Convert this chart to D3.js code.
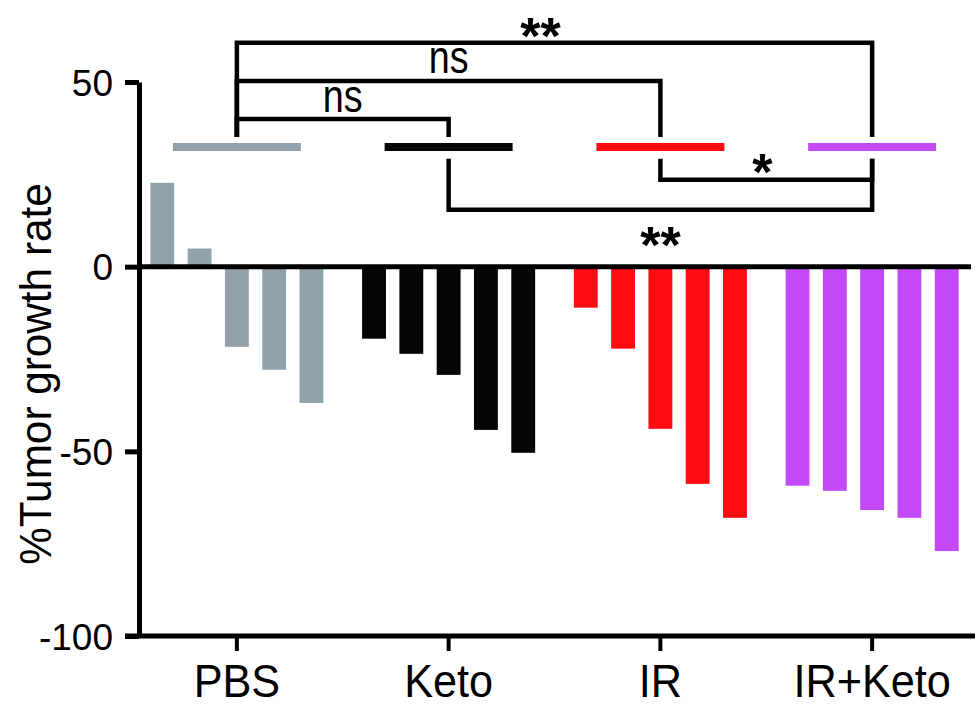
<!DOCTYPE html>
<html><head><meta charset="utf-8">
<script src="https://cdn.jsdelivr.net/npm/d3@7/dist/d3.min.js"></script>
<style>body{margin:0;background:#fff} svg{display:block}</style>
</head><body><svg id="c" width="978" height="707"></svg>
<script>
// ---- data ----
const categories = ["PBS", "Keto", "IR", "IR+Keto"];
const pbsValues    = [22.7, 4.9, -21.7, -27.9, -36.9];
const ketoValues   = [-19.5, -23.6, -29.3, -44.2, -50.4];
const irValues     = [-11.1, -22.2, -43.9, -58.8, -68.0];
const irKetoValues = [-59.3, -60.7, -65.9, -68.0, -77.0];
const yTicks = [50, 0, -50, -100];
const yTickLabels = ["50", "0", "-50", "-100"];
const yLabel = "%Tumor growth rate";
const comparisonsAbove = [
  {a: "PBS", b: "IR+Keto", label: "**"},
  {a: "PBS", b: "IR", label: "ns"},
  {a: "PBS", b: "Keto", label: "ns"}
];
const comparisonsBelow = [
  {a: "IR", b: "IR+Keto", label: "*"},
  {a: "Keto", b: "IR+Keto", label: "**"}
];

// ---- styles / layout ----
const colors = {"PBS": "#91a2ad", "Keto": "#050505", "IR": "#ff0b12", "IR+Keto": "#c44af9"};
const FONT = "'Liberation Sans', Arial, Helvetica, sans-serif";
const aboveLevels = [60.6, 50.3, 40.0];  // data units
const aboveDrop = 35.1;
const belowStart = 29.2;
const belowLevels = [23.5, 15.4];
const groupMarkLevel = 32.4;

const groups = categories.map((c, i) => ({cat: c, values: [pbsValues, ketoValues, irValues, irKetoValues][i]}));

const svg = d3.select("#c");
const y = d3.scaleLinear().domain([-100, 50]).range([636, 82]);
const x = d3.scaleBand().domain(categories).range([131, 978]).padding(0);
const cx = c => x(c) + x.bandwidth() / 2;
const xi = d3.scaleBand().domain(d3.range(5)).range([-93.25, 93.25]).paddingInner(0.36).paddingOuter(0.18);

// bars
const gBars = svg.append("g");
groups.forEach(g => {
  gBars.selectAll(null).data(g.values).enter().append("rect")
    .attr("x", (d, i) => cx(g.cat) + xi(i))
    .attr("width", xi.bandwidth())
    .attr("y", d => y(Math.max(0, d)))
    .attr("height", d => Math.abs(y(d) - y(0)))
    .attr("fill", colors[g.cat]);
});

// zero line
svg.append("line").attr("x1", 139).attr("x2", 971).attr("y1", y(0)).attr("y2", y(0))
  .attr("stroke", "#000").attr("stroke-width", 5);

// y axis
const yAxis = svg.append("g").attr("transform", "translate(139,0)")
  .call(d3.axisLeft(y).tickValues(yTicks).tickFormat((d, i) => yTickLabels[i])
    .tickSize(14).tickSizeOuter(0).tickPadding(12));
yAxis.select(".domain").attr("stroke-width", 5).attr("stroke", "#000");
yAxis.selectAll(".tick line").attr("stroke-width", 5).attr("stroke", "#000");
yAxis.selectAll(".tick text").attr("font-family", FONT).attr("font-size", 37).attr("fill", "#000").attr("dy", "0.36em");

// x axis
const xAxis = svg.append("g").attr("transform", "translate(0,636)")
  .call(d3.axisBottom(x).tickSize(15).tickSizeOuter(0));
xAxis.select(".domain").attr("stroke-width", 5).attr("stroke", "#000").attr("d", "M125,0H975");
xAxis.selectAll(".tick line").attr("stroke-width", 4).attr("stroke", "#000");
xAxis.selectAll(".tick text").attr("font-family", FONT).attr("font-size", 46).attr("fill", "#000")
  .attr("y", 0).attr("dy", 0).attr("transform", "translate(0,61) scale(0.94,1)");

// y label
svg.append("text").text(yLabel)
  .attr("transform", "translate(51,374) rotate(-90) scale(0.94,1)")
  .attr("text-anchor", "middle").attr("font-family", FONT).attr("font-size", 45).attr("fill", "#000");

// group marks
svg.selectAll(".gm").data(categories).enter().append("line")
  .attr("x1", c => cx(c) - 64).attr("x2", c => cx(c) + 64)
  .attr("y1", y(groupMarkLevel)).attr("y2", y(groupMarkLevel))
  .attr("stroke", c => colors[c]).attr("stroke-width", 8);

// brackets
const br = svg.append("g").attr("fill", "none").attr("stroke", "#000").attr("stroke-width", 4.5).attr("stroke-linejoin", "miter");
comparisonsAbove.forEach((c, i) => {
  const lv = y(aboveLevels[i]), x1 = cx(c.a), x2 = cx(c.b);
  br.append("path").attr("d", `M${x1},${y(aboveDrop)}V${lv}H${x2}V${y(aboveDrop)}`);
});
comparisonsBelow.forEach((c, i) => {
  const lv = y(belowLevels[i]), x1 = cx(c.a), x2 = cx(c.b);
  br.append("path").attr("d", `M${x1},${y(belowStart)}V${lv}H${x2}V${y(belowStart)}`);
});

function addLabel(label, xc, yc) {
  if (label === "ns") {
    svg.append("text").text(label)
      .attr("transform", `translate(${xc},${yc}) scale(0.82,1)`)
      .attr("text-anchor", "middle").attr("font-family", FONT).attr("font-size", 46).attr("fill", "#000");
  } else {
    svg.append("text").text(label)
      .attr("transform", `translate(${xc},${yc})`)
      .attr("text-anchor", "middle").attr("font-family", FONT).attr("font-weight", "bold")
      .attr("font-size", 52).attr("fill", "#000");
  }
}
// label positions: [x offset, baseline offset from bracket level]
const aboveLabelPos = [[-14, 11], [0, -8], [0, -7]];
comparisonsAbove.forEach((c, i) => {
  const xc = (cx(c.a) + cx(c.b)) / 2 + aboveLabelPos[i][0];
  addLabel(c.label, xc, y(aboveLevels[i]) + aboveLabelPos[i][1]);
});
const belowLabelPos = [[-4, 10], [0, 53]];
comparisonsBelow.forEach((c, i) => {
  const xc = (cx(c.a) + cx(c.b)) / 2 + belowLabelPos[i][0];
  addLabel(c.label, xc, y(belowLevels[i]) + belowLabelPos[i][1]);
});
</script></body></html>
